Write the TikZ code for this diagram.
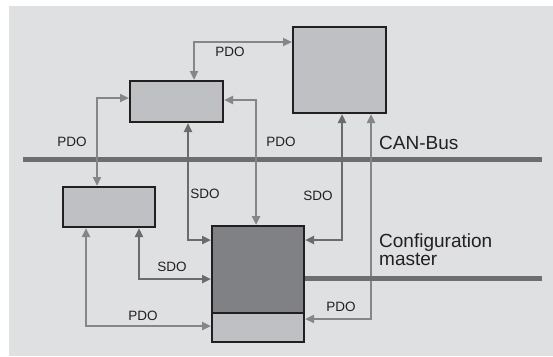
\documentclass[tikz,border=0pt]{standalone}
\usepackage{fontspec}
\setmainfont{Liberation Sans}
\usetikzlibrary{arrows.meta}
\definecolor{bg}{HTML}{DFE0E2}
\definecolor{boxlight}{HTML}{BFC0C3}
\definecolor{boxdark}{HTML}{808184}
\definecolor{border}{HTML}{231F20}
\definecolor{busc}{HTML}{6D6E70}
\definecolor{pdoc}{HTML}{858689}
\definecolor{sdoc}{HTML}{6A6B6D}
\tikzset{
  devbox/.style={draw=border, line width=2pt, fill=boxlight, inner sep=0pt},
  masterbox/.style={devbox, fill=boxdark},
  bus/.style={draw=busc, line width=5pt},
  conn/.style={line width=2.8pt, {Triangle[length=9pt,width=8pt]}-{Triangle[length=9pt,width=8pt]}},
  pdo/.style={conn, draw=pdoc},
  sdo/.style={conn, draw=sdoc},
  lbl/.style={font=\fontsize{13.5}{15}\selectfont, text=border, inner sep=0pt},
  biglbl/.style={font=\fontsize{19}{17.5}\selectfont, text=border, inner sep=0pt, align=left}
}
\begin{document}
\begin{tikzpicture}[x=1pt,y=-1pt]
\useasboundingbox (0,0) rectangle (553,356);
\fill[bg] (9,6) rectangle (553,356);

% buses
\coordinate (canl) at (23,159);
\coordinate (canr) at (542,159);
\draw[bus] (canl) -- (canr);

% devices
\node[devbox, minimum width=93pt, minimum height=41pt] (A) at (176.5,101.5) {};
\node[devbox, minimum width=93pt, minimum height=86pt] (B) at (339.5,70) {};
\node[devbox, minimum width=92pt, minimum height=40pt] (C) at (109,207) {};
\node[masterbox, minimum width=92pt, minimum height=87pt] (Du) at (258,269.5) {};
\node[devbox, minimum width=92pt, minimum height=29pt] (Dl) at (258,327.5) {};

% bend points
\coordinate (k1) at (194,42);
\coordinate (k2) at (97,98);
\coordinate (k3) at (256,100);
\coordinate (k4) at (188,240);
\coordinate (k5) at (342,240);
\coordinate (k6) at (371,319);
\coordinate (k7) at (139,279);
\coordinate (k8) at (86,326);
\coordinate (cm) at (542,278);

% connectors
\draw[pdo] (A.north -| k1) |- (B.west |- k1);
\draw[pdo] (A.west |- k2) -| (C.north -| k2);
\draw[pdo] (A.east |- k3) -| (Du.north -| k3);
\draw[sdo] (A.south -| k4) |- (Du.west |- k4);
\draw[sdo] (B.south -| k5) |- (Du.east |- k5);
\draw[pdo] (B.south -| k6) |- (Dl.east |- k6);
\draw[sdo] (C.south -| k7) |- (Du.west |- k7);
\draw[pdo] (C.south -| k8) |- (Dl.west |- k8);

\draw[bus] (Du.east |- cm) -- (cm);

% labels
\node[lbl] (l1) at (230,52) {PDO};
\node[lbl] (l2) at (72,142) {PDO};
\node[lbl] (l3) at (281,142) {PDO};
\node[lbl] (l4) at (205,194) {SDO};
\node[lbl] (l5) at (318,196) {SDO};
\node[lbl] (l6) at (341,307) {PDO};
\node[lbl] (l7) at (172,267) {SDO};
\node[lbl] (l8) at (143,316) {PDO};
\node[biglbl, anchor=west] (can) at (379,143) {CAN-Bus};
\node[biglbl, anchor=north west] (cfg) at (379,234) {Configuration\\master};
\end{tikzpicture}
\end{document}
